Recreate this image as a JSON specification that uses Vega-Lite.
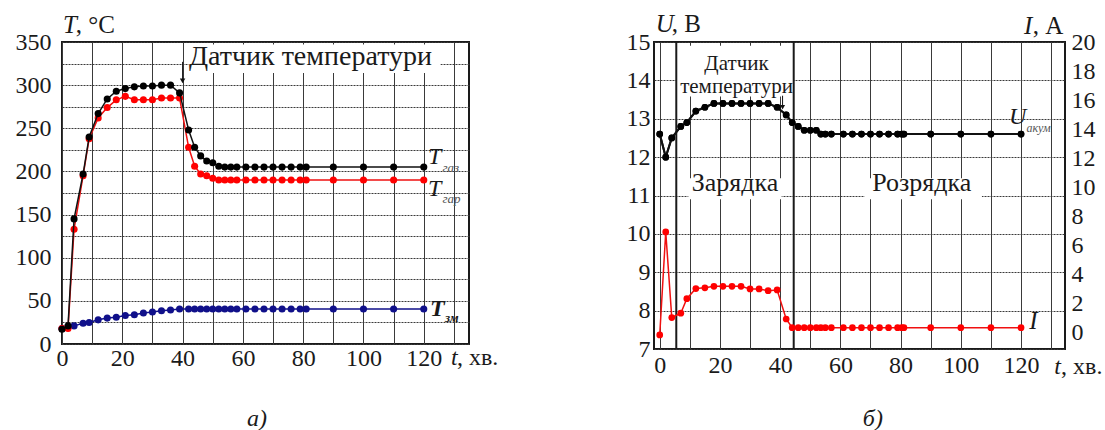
{
  "$schema": "https://vega.github.io/schema/vega-lite/v6.json",
  "background": "white",
  "padding": {"left": 14, "top": 11, "right": 5, "bottom": 5},
  "config": {
    "font": "Liberation Serif, Times New Roman, DejaVu Serif, serif",
    "text": {"font": "Liberation Serif, Times New Roman, DejaVu Serif, serif"},
    "view": {"stroke": "#1a1a1a", "strokeWidth": 2},
    "axis": {"labelFont": "Liberation Serif, Times New Roman, DejaVu Serif, serif", "labelFontSize": 24, "labelColor": "#1a1a1a", "domain": false, "ticks": false, "gridColor": "#3a3a3a", "gridWidth": 1, "gridOpacity": 1, "labelFlush": false, "labelOverlap": false}
  },
  "datasets": {
    "temp": [
      {"t":0,"s":"зм","T":18},{"t":2,"s":"зм","T":20},{"t":4,"s":"зм","T":21},{"t":7,"s":"зм","T":24},{"t":9,"s":"зм","T":25},{"t":12,"s":"зм","T":28},{"t":15,"s":"зм","T":30},{"t":18,"s":"зм","T":31},{"t":21,"s":"зм","T":33},{"t":24,"s":"зм","T":34},{"t":27,"s":"зм","T":36},{"t":30,"s":"зм","T":37},{"t":33,"s":"зм","T":38.5},{"t":36,"s":"зм","T":39.5},{"t":39,"s":"зм","T":40.5},{"t":42,"s":"зм","T":40.5},{"t":44,"s":"зм","T":40.5},{"t":46,"s":"зм","T":40.5},{"t":48,"s":"зм","T":40.5},{"t":50,"s":"зм","T":40.5},{"t":52,"s":"зм","T":40.5},{"t":54,"s":"зм","T":40.5},{"t":56,"s":"зм","T":40.5},{"t":58,"s":"зм","T":40.5},{"t":61,"s":"зм","T":40.5},{"t":64,"s":"зм","T":40.5},{"t":67,"s":"зм","T":40.5},{"t":70,"s":"зм","T":40.5},{"t":73,"s":"зм","T":40.5},{"t":76,"s":"зм","T":40.5},{"t":79,"s":"зм","T":40.5},{"t":81,"s":"зм","T":40.5},{"t":90,"s":"зм","T":40.5},{"t":100,"s":"зм","T":40.5},{"t":110,"s":"зм","T":40.5},{"t":120,"s":"зм","T":40.5},
      {"t":0,"s":"гар","T":18},{"t":2,"s":"гар","T":18},{"t":4,"s":"гар","T":133},{"t":7,"s":"гар","T":195},{"t":9,"s":"гар","T":238},{"t":12,"s":"гар","T":262},{"t":15,"s":"гар","T":274},{"t":18,"s":"гар","T":283},{"t":21,"s":"гар","T":287},{"t":24,"s":"гар","T":283},{"t":27,"s":"гар","T":283},{"t":30,"s":"гар","T":283},{"t":33,"s":"гар","T":285},{"t":36,"s":"гар","T":285},{"t":39,"s":"гар","T":285},{"t":42,"s":"гар","T":228},{"t":44,"s":"гар","T":206},{"t":46,"s":"гар","T":197},{"t":48,"s":"гар","T":195},{"t":50,"s":"гар","T":192},{"t":52,"s":"гар","T":190},{"t":54,"s":"гар","T":190},{"t":56,"s":"гар","T":190},{"t":58,"s":"гар","T":190},{"t":61,"s":"гар","T":190},{"t":64,"s":"гар","T":190},{"t":67,"s":"гар","T":190},{"t":70,"s":"гар","T":190},{"t":73,"s":"гар","T":190},{"t":76,"s":"гар","T":190},{"t":79,"s":"гар","T":190},{"t":81,"s":"гар","T":190},{"t":90,"s":"гар","T":190},{"t":100,"s":"гар","T":190},{"t":110,"s":"гар","T":190},{"t":120,"s":"гар","T":190},
      {"t":0,"s":"газ","T":17},{"t":2,"s":"газ","T":21},{"t":4,"s":"газ","T":145},{"t":7,"s":"газ","T":197},{"t":9,"s":"газ","T":240},{"t":12,"s":"газ","T":267},{"t":15,"s":"газ","T":284},{"t":18,"s":"газ","T":293},{"t":21,"s":"газ","T":296},{"t":24,"s":"газ","T":298},{"t":27,"s":"газ","T":299},{"t":30,"s":"газ","T":299},{"t":33,"s":"газ","T":300},{"t":36,"s":"газ","T":300},{"t":39,"s":"газ","T":291},{"t":42,"s":"газ","T":248},{"t":44,"s":"газ","T":228},{"t":46,"s":"газ","T":218},{"t":48,"s":"газ","T":212},{"t":50,"s":"газ","T":210},{"t":52,"s":"газ","T":206},{"t":54,"s":"газ","T":205},{"t":56,"s":"газ","T":205},{"t":58,"s":"газ","T":205},{"t":61,"s":"газ","T":205},{"t":64,"s":"газ","T":205},{"t":67,"s":"газ","T":205},{"t":70,"s":"газ","T":205},{"t":73,"s":"газ","T":205},{"t":76,"s":"газ","T":205},{"t":79,"s":"газ","T":205},{"t":81,"s":"газ","T":205},{"t":90,"s":"газ","T":205},{"t":100,"s":"газ","T":205},{"t":110,"s":"газ","T":205},{"t":120,"s":"газ","T":205}
    ],
    "elec": [
      {"t":0,"U":12.6,"I":-0.2},{"t":2,"U":12.0,"I":6.9},{"t":4,"U":12.5,"I":1.0},{"t":7,"U":12.8,"I":1.3},{"t":9,"U":12.9,"I":2.3},{"t":12,"U":13.2,"I":3.0},{"t":15,"U":13.3,"I":3.05},{"t":18,"U":13.4,"I":3.15},{"t":21,"U":13.4,"I":3.15},{"t":24,"U":13.4,"I":3.15},{"t":27,"U":13.4,"I":3.15},{"t":30,"U":13.4,"I":2.97},{"t":33,"U":13.4,"I":2.97},{"t":36,"U":13.4,"I":2.85},{"t":39,"U":13.3,"I":2.9},{"t":42,"U":13.1,"I":0.9},{"t":44,"U":12.9,"I":0.3},{"t":46,"U":12.8,"I":0.3},{"t":48,"U":12.7,"I":0.3},{"t":50,"U":12.7,"I":0.3},{"t":52,"U":12.7,"I":0.3},{"t":53.5,"U":12.6,"I":0.3},{"t":55,"U":12.6,"I":0.3},{"t":57,"U":12.6,"I":0.3},{"t":61,"U":12.6,"I":0.3},{"t":64,"U":12.6,"I":0.3},{"t":67,"U":12.6,"I":0.3},{"t":70,"U":12.6,"I":0.3},{"t":73,"U":12.6,"I":0.3},{"t":76,"U":12.6,"I":0.3},{"t":79,"U":12.6,"I":0.3},{"t":80.4,"U":12.6,"I":0.3},{"t":81.1,"U":12.6,"I":0.3},{"t":90,"U":12.6,"I":0.3},{"t":100,"U":12.6,"I":0.3},{"t":110,"U":12.6,"I":0.3},{"t":120,"U":12.6,"I":0.3}
    ]
  },
  "spacing": 185,
  "bounds": "flush",
  "hconcat": [
    {
      "width": 407,
      "height": 302,
      "layer": [
        {
          "data": {"name": "temp"},
          "transform": [{"filter": "datum.s === 'зм'"}],
          "mark": {"type": "line", "color": "#10108a", "strokeWidth": 1.5, "point": {"filled": true, "size": 50, "color": "#10108a"}},
          "encoding": {
            "x": {"field": "t", "type": "quantitative", "scale": {"domain": [0, 135], "nice": false, "zero": false},
              "axis": {"title": null, "values": [0,10,20,30,40,50,60,70,80,90,100,110,120,130], "tickCount": 100, "format": "d", "labelExpr": "datum.value % 20 === 0 ? datum.label : ''", "grid": true, "labelPadding": 2, "labelOverlap": false}},
            "y": {"field": "T", "type": "quantitative", "scale": {"domain": [0, 350], "nice": false, "zero": false},
              "axis": {"title": null, "values": [0,25,50,75,100,125,150,175,200,225,250,275,300,325,350], "tickCount": 100, "format": "d", "labelExpr": "datum.value % 50 === 0 ? datum.label : ''", "grid": true, "gridDash": [2, 1], "labelPadding": 11, "labelOverlap": false}}
          }
        },
        {
          "data": {"values": [{}]},
          "mark": {"type": "rect", "fill": "white"},
          "encoding": {"x": {"datum": 42}, "x2": {"datum": 125.5}, "y": {"datum": 314}, "y2": {"datum": 347}}
        },
        {
          "data": {"name": "temp"},
          "transform": [{"filter": "datum.s === 'гар'"}],
          "mark": {"type": "line", "color": "#f01010", "strokeWidth": 1.5, "point": {"filled": true, "size": 50, "color": "#ff0000"}},
          "encoding": {"x": {"field": "t", "type": "quantitative"}, "y": {"field": "T", "type": "quantitative"}}
        },
        {
          "data": {"name": "temp"},
          "transform": [{"filter": "datum.s === 'газ'"}],
          "mark": {"type": "line", "color": "#111111", "strokeWidth": 1.5, "point": {"filled": true, "size": 50, "color": "#000000"}},
          "encoding": {"x": {"field": "t", "type": "quantitative"}, "y": {"field": "T", "type": "quantitative"}}
        },
        {
          "data": {"values": [{}]},
          "mark": {"type": "rule", "color": "#111", "strokeWidth": 1},
          "encoding": {"x": {"datum": 40}, "y": {"datum": 327}, "y2": {"datum": 306}}
        },
        {
          "data": {"values": [{}]},
          "mark": {"type": "point", "shape": "triangle-down", "filled": true, "color": "#111", "size": 30, "opacity": 1},
          "encoding": {"x": {"datum": 40}, "y": {"datum": 305}}
        },
        {
          "data": {"values": [{}]},
          "mark": {"type": "text", "text": "Датчик температури", "font": "Liberation Serif, Times New Roman, DejaVu Serif, serif", "fontSize": 28, "align": "left", "baseline": "alphabetic", "color": "#1a1a1a"},
          "encoding": {"x": {"datum": 42.1}, "y": {"datum": 323}}
        },
        {
          "data": {"values": [{}]},
          "mark": {"type": "text", "text": "T", "font": "Liberation Serif, Times New Roman, DejaVu Serif, serif", "fontSize": 25, "fontStyle": "italic", "align": "left", "baseline": "alphabetic", "color": "#1a1a1a"},
          "encoding": {"x": {"datum": 0.3}, "y": {"datum": 361}}
        },
        {
          "data": {"values": [{}]},
          "mark": {"type": "text", "text": ", °C", "font": "Liberation Serif, Times New Roman, DejaVu Serif, serif", "fontSize": 25, "align": "left", "baseline": "alphabetic", "color": "#1a1a1a"},
          "encoding": {"x": {"datum": 4.6}, "y": {"datum": 361}}
        },
        {
          "data": {"values": [{}]},
          "mark": {"type": "text", "text": "t", "font": "Liberation Serif, Times New Roman, DejaVu Serif, serif", "fontSize": 24, "fontStyle": "italic", "align": "left", "baseline": "alphabetic", "color": "#1a1a1a"},
          "encoding": {"x": {"datum": 129}, "y": {"datum": -24.3}}
        },
        {
          "data": {"values": [{}]},
          "mark": {"type": "text", "text": ", хв.", "font": "Liberation Serif, Times New Roman, DejaVu Serif, serif", "fontSize": 24, "align": "left", "baseline": "alphabetic", "color": "#1a1a1a"},
          "encoding": {"x": {"datum": 131}, "y": {"datum": -24.3}}
        },
        {
          "data": {"values": [{}]},
          "mark": {"type": "text", "text": "T", "font": "Liberation Serif, Times New Roman, DejaVu Serif, serif", "fontSize": 24, "fontStyle": "italic", "align": "left", "baseline": "alphabetic", "color": "#1a1a1a"},
          "encoding": {"x": {"datum": 121.4}, "y": {"datum": 208.6}}
        },
        {
          "data": {"values": [{}]},
          "mark": {"type": "text", "text": "газ", "font": "Liberation Serif, Times New Roman, DejaVu Serif, serif", "fontSize": 13, "fontStyle": "italic", "align": "left", "baseline": "alphabetic", "color": "#555"},
          "encoding": {"x": {"datum": 126.2}, "y": {"datum": 199}}
        },
        {
          "data": {"values": [{}]},
          "mark": {"type": "text", "text": "T", "font": "Liberation Serif, Times New Roman, DejaVu Serif, serif", "fontSize": 24, "fontStyle": "italic", "align": "left", "baseline": "alphabetic", "color": "#1a1a1a"},
          "encoding": {"x": {"datum": 121.4}, "y": {"datum": 171.9}}
        },
        {
          "data": {"values": [{}]},
          "mark": {"type": "text", "text": "гар", "font": "Liberation Serif, Times New Roman, DejaVu Serif, serif", "fontSize": 13, "fontStyle": "italic", "align": "left", "baseline": "alphabetic", "color": "#555"},
          "encoding": {"x": {"datum": 126.2}, "y": {"datum": 163}}
        },
        {
          "data": {"values": [{}]},
          "mark": {"type": "text", "text": "T", "font": "Liberation Serif, Times New Roman, DejaVu Serif, serif", "fontSize": 24, "fontStyle": "italic", "fontWeight": "bold", "align": "left", "baseline": "alphabetic", "color": "#1a1a1a"},
          "encoding": {"x": {"datum": 122.1}, "y": {"datum": 32.1}}
        },
        {
          "data": {"values": [{}]},
          "mark": {"type": "text", "text": "зм", "font": "Liberation Serif, Times New Roman, DejaVu Serif, serif", "fontSize": 13, "fontStyle": "italic", "fontWeight": "bold", "align": "left", "baseline": "alphabetic", "color": "#1a1a1a"},
          "encoding": {"x": {"datum": 127.0}, "y": {"datum": 25.1}}
        },
        {
          "data": {"values": [{}]},
          "mark": {"type": "text", "text": "а)", "font": "Liberation Serif, Times New Roman, DejaVu Serif, serif", "fontSize": 24, "fontStyle": "italic", "align": "center", "baseline": "alphabetic", "color": "#1a1a1a"},
          "encoding": {"x": {"datum": 64.7}, "y": {"datum": -95}}
        }
      ]
    },
    {
      "width": 411,
      "height": 307,
      "layer": [
        {
          "layer": [
            {
              "data": {"name": "elec"},
              "mark": {"type": "line", "color": "#111111", "strokeWidth": 2, "point": {"filled": true, "size": 45, "color": "#000000"}},
              "encoding": {
                "x": {"field": "t", "type": "quantitative", "scale": {"domain": [-1.9, 134.6], "nice": false, "zero": false},
                  "axis": {"title": null, "values": [0,10,20,30,40,50,60,70,80,90,100,110,120,130], "tickCount": 100, "format": "d", "labelExpr": "datum.value % 20 === 0 ? datum.label : ''", "grid": true, "labelPadding": 4, "labelOverlap": false}},
                "y": {"field": "U", "type": "quantitative", "scale": {"domain": [7, 15], "nice": false, "zero": false},
                  "axis": {"title": null, "orient": "left", "values": [7,7.5,8,8.5,9,9.5,10,10.5,11,11.5,12,12.5,13,13.5,14,14.5,15], "tickCount": 100, "format": "d", "labelExpr": "datum.value % 1 === 0 ? datum.label : ''", "grid": true, "gridDash": [2, 1], "labelPadding": 4, "labelOverlap": false}}
              }
            },
            {
              "data": {"values": [{}]},
              "mark": {"type": "rect", "fill": "white"},
              "encoding": {"x": {"datum": 5.5}, "x2": {"datum": 44.5}, "y": {"datum": 13.58}, "y2": {"datum": 14.9}}
            },
            {
              "data": {"values": [{}]},
              "mark": {"type": "rect", "fill": "white"},
              "encoding": {"x": {"datum": 9.5}, "x2": {"datum": 40.5}, "y": {"datum": 10.9}, "y2": {"datum": 11.45}}
            },
            {
              "data": {"values": [{}]},
              "mark": {"type": "rect", "fill": "white"},
              "encoding": {"x": {"datum": 68}, "x2": {"datum": 107}, "y": {"datum": 10.9}, "y2": {"datum": 11.45}}
            },
            {
              "data": {"values": [{}]},
              "mark": {"type": "rule", "color": "#1a1a1a", "strokeWidth": 2},
              "encoding": {"x": {"datum": 5.5}}
            },
            {
              "data": {"values": [{}]},
              "mark": {"type": "rule", "color": "#1a1a1a", "strokeWidth": 2},
              "encoding": {"x": {"datum": 44.5}}
            },
            {
              "data": {"name": "elec"},
              "mark": {"type": "line", "color": "#111111", "strokeWidth": 2, "point": {"filled": true, "size": 45, "color": "#000000"}},
              "encoding": {"x": {"field": "t", "type": "quantitative"}, "y": {"field": "U", "type": "quantitative"}}
            },
            {
              "data": {"values": [{}]},
              "mark": {"type": "rule", "color": "#111", "strokeWidth": 1},
              "encoding": {"x": {"datum": 40.8}, "y": {"datum": 13.6}, "y2": {"datum": 13.32}}
            },
            {
              "data": {"values": [{}]},
              "mark": {"type": "point", "shape": "triangle-down", "filled": true, "color": "#111", "size": 25, "opacity": 1},
              "encoding": {"x": {"datum": 40.8}, "y": {"datum": 13.3}}
            },
            {
              "data": {"values": [{}]},
              "mark": {"type": "text", "text": "Датчик", "font": "Liberation Serif, Times New Roman, DejaVu Serif, serif", "fontSize": 21, "align": "center", "baseline": "alphabetic", "color": "#1a1a1a"},
              "encoding": {"x": {"datum": 25.5}, "y": {"datum": 14.28}}
            },
            {
              "data": {"values": [{}]},
              "mark": {"type": "text", "text": "температури", "font": "Liberation Serif, Times New Roman, DejaVu Serif, serif", "fontSize": 21, "align": "center", "baseline": "alphabetic", "color": "#1a1a1a"},
              "encoding": {"x": {"datum": 25.5}, "y": {"datum": 13.67}}
            },
            {
              "data": {"values": [{}]},
              "mark": {"type": "text", "text": "Зарядка", "font": "Liberation Serif, Times New Roman, DejaVu Serif, serif", "fontSize": 26, "align": "center", "baseline": "alphabetic", "color": "#1a1a1a"},
              "encoding": {"x": {"datum": 25}, "y": {"datum": 11.12}}
            },
            {
              "data": {"values": [{}]},
              "mark": {"type": "text", "text": "Розрядка", "font": "Liberation Serif, Times New Roman, DejaVu Serif, serif", "fontSize": 26, "align": "center", "baseline": "alphabetic", "color": "#1a1a1a"},
              "encoding": {"x": {"datum": 87}, "y": {"datum": 11.12}}
            },
            {
              "data": {"values": [{}]},
              "mark": {"type": "text", "text": "U", "font": "Liberation Serif, Times New Roman, DejaVu Serif, serif", "fontSize": 24, "fontStyle": "italic", "align": "left", "baseline": "alphabetic", "color": "#1a1a1a"},
              "encoding": {"x": {"datum": 116}, "y": {"datum": 12.86}}
            },
            {
              "data": {"values": [{}]},
              "mark": {"type": "text", "text": "акум", "font": "Liberation Serif, Times New Roman, DejaVu Serif, serif", "fontSize": 12, "fontStyle": "italic", "align": "left", "baseline": "alphabetic", "color": "#555"},
              "encoding": {"x": {"datum": 121.8}, "y": {"datum": 12.66}}
            },
            {
              "data": {"values": [{}]},
              "mark": {"type": "text", "text": "U", "font": "Liberation Serif, Times New Roman, DejaVu Serif, serif", "fontSize": 25, "fontStyle": "italic", "align": "left", "baseline": "alphabetic", "color": "#1a1a1a"},
              "encoding": {"x": {"datum": -1.3}, "y": {"datum": 15.26}}
            },
            {
              "data": {"values": [{}]},
              "mark": {"type": "text", "text": ", В", "font": "Liberation Serif, Times New Roman, DejaVu Serif, serif", "fontSize": 25, "align": "left", "baseline": "alphabetic", "color": "#1a1a1a"},
              "encoding": {"x": {"datum": 4.0}, "y": {"datum": 15.26}}
            },
            {
              "data": {"values": [{}]},
              "mark": {"type": "text", "text": "I", "font": "Liberation Serif, Times New Roman, DejaVu Serif, serif", "fontSize": 25, "fontStyle": "italic", "align": "left", "baseline": "alphabetic", "color": "#1a1a1a"},
              "encoding": {"x": {"datum": 121}, "y": {"datum": 15.21}}
            },
            {
              "data": {"values": [{}]},
              "mark": {"type": "text", "text": ", А", "font": "Liberation Serif, Times New Roman, DejaVu Serif, serif", "fontSize": 25, "align": "left", "baseline": "alphabetic", "color": "#1a1a1a"},
              "encoding": {"x": {"datum": 123.9}, "y": {"datum": 15.21}}
            },
            {
              "data": {"values": [{}]},
              "mark": {"type": "text", "text": "t", "font": "Liberation Serif, Times New Roman, DejaVu Serif, serif", "fontSize": 24, "fontStyle": "italic", "align": "left", "baseline": "alphabetic", "color": "#1a1a1a"},
              "encoding": {"x": {"datum": 131}, "y": {"datum": 6.35}}
            },
            {
              "data": {"values": [{}]},
              "mark": {"type": "text", "text": ", хв.", "font": "Liberation Serif, Times New Roman, DejaVu Serif, serif", "fontSize": 24, "align": "left", "baseline": "alphabetic", "color": "#1a1a1a"},
              "encoding": {"x": {"datum": 133.3}, "y": {"datum": 6.35}}
            },
            {
              "data": {"values": [{}]},
              "mark": {"type": "text", "text": "б)", "font": "Liberation Serif, Times New Roman, DejaVu Serif, serif", "fontSize": 24, "fontStyle": "italic", "align": "center", "baseline": "alphabetic", "color": "#1a1a1a"},
              "encoding": {"x": {"datum": 70.8}, "y": {"datum": 5.0}}
            }
          ]
        },
        {
          "layer": [
            {
              "data": {"name": "elec"},
              "mark": {"type": "line", "color": "#f01010", "strokeWidth": 1.5, "point": {"filled": true, "size": 45, "color": "#ff0000"}},
              "encoding": {
                "x": {"field": "t", "type": "quantitative"},
                "y": {"field": "I", "type": "quantitative", "scale": {"domain": [-1.17, 20], "nice": false, "zero": false},
                  "axis": {"title": null, "orient": "right", "values": [0,2,4,6,8,10,12,14,16,18,20], "tickCount": 100, "format": "d", "grid": false, "labelPadding": 6, "labelOverlap": false}}
              }
            },
            {
              "data": {"values": [{}]},
              "mark": {"type": "text", "text": "I", "font": "Liberation Serif, Times New Roman, DejaVu Serif, serif", "fontSize": 25, "fontStyle": "italic", "align": "left", "baseline": "alphabetic", "color": "#1a1a1a"},
              "encoding": {"x": {"datum": 122.7}, "y": {"datum": 0.2}}
            }
          ]
        }
      ],
      "resolve": {"scale": {"y": "independent"}}
    }
  ]
}
